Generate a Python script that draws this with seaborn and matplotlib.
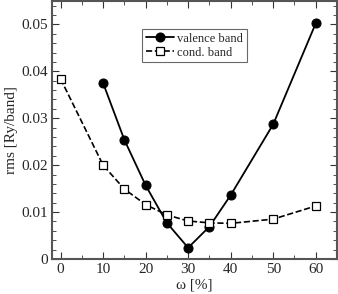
import pandas as pd
import matplotlib
matplotlib.use("Agg")
import matplotlib.pyplot as plt
import seaborn as sns
from matplotlib.ticker import MultipleLocator

omega_val = [10, 15, 20, 25, 30, 35, 40, 50, 60]
rms_val = [0.0375, 0.0254, 0.0157, 0.0077, 0.0024, 0.0069, 0.0136, 0.0287, 0.0502]
omega_cond = [0, 10, 15, 20, 25, 30, 35, 40, 50, 60]
rms_cond = [0.0384, 0.0200, 0.0149, 0.0116, 0.0094, 0.0081, 0.0077, 0.0076, 0.0085, 0.0113]

df_val = pd.DataFrame({'omega': omega_val, 'rms': rms_val})
df_cond = pd.DataFrame({'omega': omega_cond, 'rms': rms_cond})

sns.set_style('ticks')
plt.rcParams['font.family'] = 'serif'
plt.rcParams['font.serif'] = ['Liberation Serif', 'DejaVu Serif']

fig = plt.figure(figsize=(3.38, 2.94), dpi=100)
ax = fig.add_axes([0.154, 0.119, 0.843, 0.878])

sns.lineplot(data=df_val, x='omega', y='rms', ax=ax, color='black',
             marker='o', markersize=6.5, linewidth=1.3, markeredgecolor='black',
             label='valence band')
sns.lineplot(data=df_cond, x='omega', y='rms', ax=ax, color='black',
             linestyle='--', marker='s', markersize=5.5, linewidth=1.2,
             markerfacecolor='white', markeredgecolor='black',
             markeredgewidth=0.9, label='cond. band')

ax.set_xlim(-2, 65)
ax.set_ylim(0, 0.055)
ax.xaxis.set_major_locator(MultipleLocator(10))
ax.xaxis.set_minor_locator(MultipleLocator(5))
ax.yaxis.set_minor_locator(MultipleLocator(0.002))
ax.set_yticks([0, 0.01, 0.02, 0.03, 0.04, 0.05])
ax.set_yticklabels(['0', '0.01', '0.02', '0.03', '0.04', '0.05'])
ax.tick_params(which='both', direction='in', top=True, right=True,
               labelsize=11, color='#333333', pad=3)
ax.tick_params(which='major', length=5)
ax.tick_params(which='minor', length=3)
for s in ax.spines.values():
    s.set_linewidth(1.5)
    s.set_color('#555555')

ax.set_xlabel('ω [%]', fontsize=11, labelpad=2)
ax.set_ylabel('rms [Ry/band]', fontsize=11, labelpad=2)

leg = ax.legend(loc='upper left', bbox_to_anchor=(0.295, 0.915), fontsize=9,
                frameon=True, fancybox=False, handlelength=2.2,
                borderpad=0.3, labelspacing=0.15, handletextpad=0.3)
leg.get_frame().set_edgecolor('#444444')
leg.get_frame().set_linewidth(0.8)

fig.savefig('out.png', dpi=100)
